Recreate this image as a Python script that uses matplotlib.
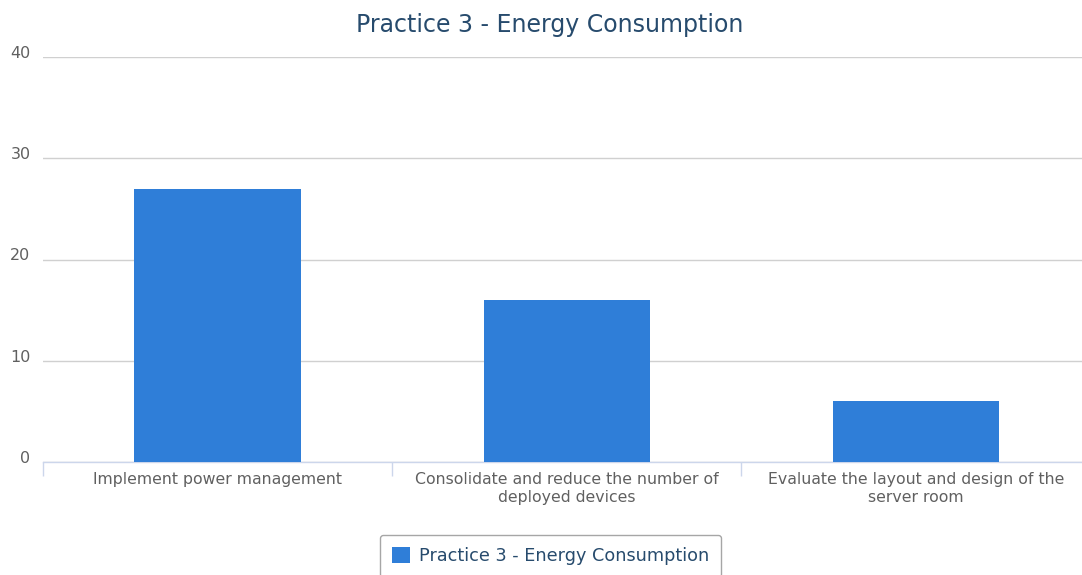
import matplotlib
matplotlib.use("Agg")
import matplotlib.pyplot as plt
import matplotlib.transforms as mtransforms

categories = [
    "Implement power management",
    "Consolidate and reduce the number of\ndeployed devices",
    "Evaluate the layout and design of the\nserver room",
]
values = [27, 16, 6]
series_name = "Practice 3 - Energy Consumption"
y_ticks = [0, 10, 20, 30, 40]

bar_color = "#2f7ed8"
grid_color = "#d0d0d0"
axis_color = "#ccd6eb"
label_color = "#606060"
title_color = "#274b6d"

plt.rcParams["font.family"] = ["DejaVu Sans"]

W, H = 1082, 575
fig = plt.figure(figsize=(W / 100, H / 100), dpi=100)
ax = fig.add_axes([43 / W, 1 - 462 / H, (1090.5 - 43) / W, (462 - 57) / H])

x = list(range(len(categories)))
ax.bar(x, values, width=0.476, color=bar_color, zorder=3, label=series_name)

ax.set_xlim(-0.5, len(categories) - 0.5)
ax.set_ylim(0, 40)
ax.set_yticks(y_ticks)
ax.set_yticklabels([str(t) for t in y_ticks])
ax.yaxis.grid(True, color=grid_color, linewidth=1)
ax.set_axisbelow(True)

for side in ["top", "right", "left"]:
    ax.spines[side].set_visible(False)
ax.spines["bottom"].set_color(axis_color)
ax.spines["bottom"].set_linewidth(1)

ax.tick_params(axis="y", length=0, pad=9, labelsize=11.5, labelcolor=label_color)
offset = mtransforms.ScaledTranslation(0, 5 / 100, fig.dpi_scale_trans)
for lbl in ax.get_yticklabels():
    lbl.set_transform(lbl.get_transform() + offset)

# category labels centred under each bar, boundary tick marks between categories
ax.set_xticks(x)
ax.set_xticklabels(categories, fontsize=11.3, color=label_color, linespacing=1.3)
ax.tick_params(axis="x", which="major", length=0, pad=7)
ax.set_xticks([i - 0.5 for i in range(len(categories) + 1)], minor=True)
ax.tick_params(axis="x", which="minor", length=10, width=1, color=axis_color)

fig.text(550 / W, 1 - 25 / H, series_name, ha="center", va="center",
         fontsize=17, color=title_color)

leg = fig.legend(loc="center", bbox_to_anchor=(550.5 / W, 1 - 556 / H),
                 frameon=True, fancybox=True, edgecolor="#909090",
                 fontsize=12.7, handlelength=1.0, handleheight=1.0,
                 handletextpad=0.5, borderpad=0.7)
leg.get_frame().set_linewidth(1)
for t in leg.get_texts():
    t.set_color(title_color)

fig.savefig("out.png", dpi=100)
